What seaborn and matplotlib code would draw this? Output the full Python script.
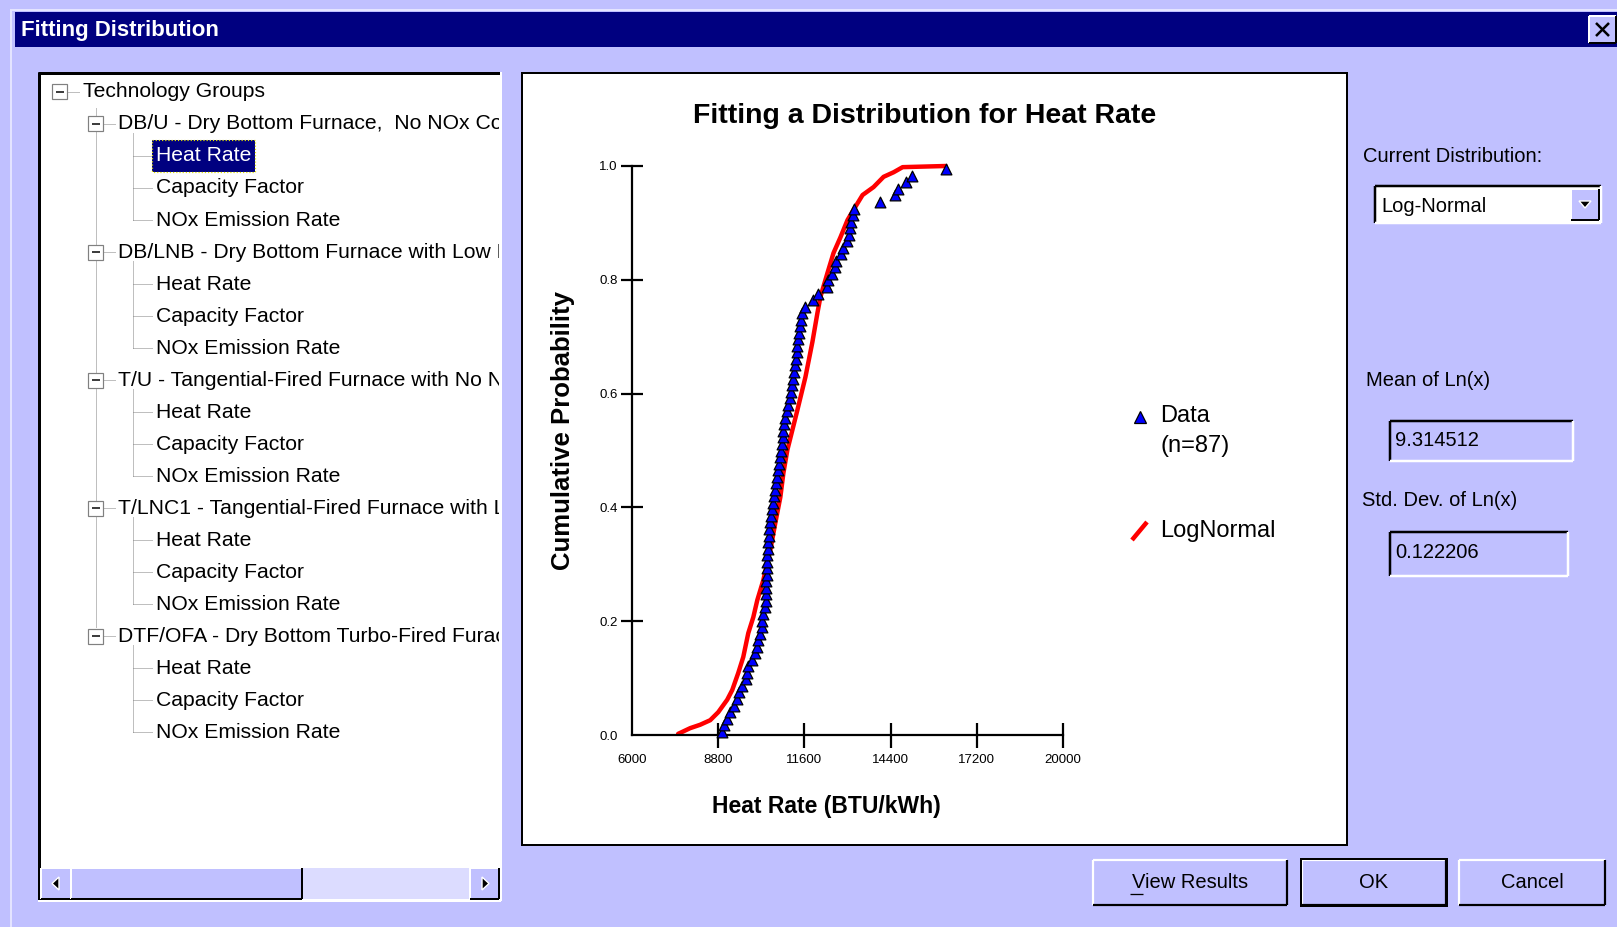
import numpy as np
import pandas as pd
import matplotlib
matplotlib.use("Agg")
import matplotlib.pyplot as plt
import seaborn as sns
from matplotlib.patches import Rectangle, Polygon

# ---------------- data ----------------
heat_rate_data = [8930, 8995, 9090, 9190, 9320, 9420, 9480, 9580, 9710, 9745,
                  9775, 9905, 10005, 10070, 10100, 10170, 10230, 10235, 10265, 10330,
                  10360, 10362, 10365, 10368, 10395, 10397, 10399, 10400, 10428, 10430,
                  10460, 10462, 10493, 10526, 10558, 10591, 10624, 10656, 10689, 10721,
                  10754, 10786, 10819, 10851, 10884, 10915, 10918, 10949, 10982, 11047,
                  11079, 11144, 11177, 11210, 11242, 11275, 11307, 11340, 11370, 11375,
                  11405, 11438, 11470, 11503, 11535, 11633, 11893, 12056, 12349, 12382,
                  12512, 12610, 12642, 12773, 12870, 12968, 13033, 13066, 13098, 13163,
                  13196, 14042, 14531, 14628, 14889, 15084, 16191]

lognormal_x = [7498, 7888, 8214, 8540, 8800, 9093, 9256, 9451, 9614, 9777,
               9940, 10070, 10265, 10493, 10656, 10819, 10917, 11047, 11372, 11633,
               11861, 12024, 12121, 12349, 12545, 12773, 13000, 13196, 13489, 13847,
               14173, 14498, 14791, 16191]
lognormal_p = [0.002, 0.012, 0.018, 0.026, 0.040, 0.062, 0.079, 0.109, 0.137, 0.179,
               0.207, 0.237, 0.272, 0.325, 0.373, 0.418, 0.460, 0.501, 0.571, 0.629,
               0.691, 0.742, 0.770, 0.812, 0.847, 0.875, 0.905, 0.923, 0.949, 0.963,
               0.981, 0.989, 0.998, 1.000]

x_ticks = [6000, 8800, 11600, 14400, 17200, 20000]
y_ticks = [0.0, 0.2, 0.4, 0.6, 0.8, 1.0]

# group names as visible in the (horizontally scrolled) tree panel
technology_groups = ["DB/U - Dry Bottom Furnace,  No NOx Co",
                     "DB/LNB - Dry Bottom Furnace with Low N",
                     "T/U - Tangential-Fired Furnace with No N",
                     "T/LNC1 - Tangential-Fired Furnace with L",
                     "DTF/OFA - Dry Bottom Turbo-Fired Furac"]
attributes = ["Heat Rate", "Capacity Factor", "NOx Emission Rate"]

current_distribution = "Log-Normal"
mean_ln = "9.314512"
sd_ln = "0.122206"
n_data = len(heat_rate_data)
# empirical plotting positions from the ranks
cum_prob = [(i + 0.5) / n_data for i in range(n_data)]

# ---------------- style ----------------
sns.set_style("ticks")
plt.rcParams['font.family'] = ['Liberation Sans', 'DejaVu Sans']
plt.rcParams.update({'text.color': 'black', 'axes.labelcolor': 'black',
                     'xtick.color': 'black', 'ytick.color': 'black',
                     'axes.edgecolor': 'black'})

BG = '#C0C0FF'
NAVY = '#000080'
W, H = 1617, 927
PX = 0.72  # one pixel in points at dpi 100
UI = 14.5
TREE = 15.2

fig = plt.figure(figsize=(W / 100, H / 100), dpi=100, facecolor=BG)
bg = fig.add_axes([0, 0, 1, 1])
bg.set_xlim(0, W)
bg.set_ylim(H, 0)
bg.axis('off')


def rect(ax, x0, y0, x1, y1, fc, ec='none', lw=0, z=1, ls='-'):
    ax.add_patch(Rectangle((x0, y0), x1 - x0, y1 - y0, facecolor=fc, edgecolor=ec,
                           linewidth=lw * PX, zorder=z, linestyle=ls))


def seg(ax, x0, y0, x1, y1, c, lw=1, z=2, ls='-'):
    ax.plot([x0, x1], [y0, y1], color=c, lw=lw * PX, zorder=z, ls=ls,
            solid_capstyle='butt')


def sunken(ax, x0, y0, x1, y1, w=2, z=3):
    seg(ax, x0, y0, x1, y0, 'black', w, z)
    seg(ax, x0, y0, x0, y1, 'black', w, z)
    seg(ax, x0, y1, x1, y1, 'white', w, z)
    seg(ax, x1, y0, x1, y1, 'white', w, z)


def raised(ax, x0, y0, x1, y1, w=2, z=3):
    seg(ax, x0, y0, x1, y0, 'white', w, z)
    seg(ax, x0, y0, x0, y1, 'white', w, z)
    seg(ax, x0, y1, x1, y1, 'black', w, z)
    seg(ax, x1, y0, x1, y1, 'black', w, z)


# window frame
seg(bg, 10, 10, W, 10, '#E4E4FF', 2, 1)
seg(bg, 11, 10, 11, H, '#E4E4FF', 2, 1)
rect(bg, 15, 12, W, 47, NAVY, z=1)
bg.text(21, 30, "Fitting Distribution", color='white', fontsize=16,
        fontweight='bold', va='center', ha='left', zorder=4)
# close button
rect(bg, 1589, 16, 1616, 43, BG, z=2)
raised(bg, 1589, 16, 1616, 43, 2, 3)
seg(bg, 1596, 23, 1609, 36, 'black', 2.5, 4)
seg(bg, 1596, 36, 1609, 23, 'black', 2.5, 4)

# ---------------- tree panel ----------------
rect(bg, 39, 73, 500, 900, 'white', z=1)
seg(bg, 38, 73, 500, 73, 'black', 3, 3)
seg(bg, 39, 72, 39, 900, 'black', 3, 3)
seg(bg, 38, 901, 501, 901, 'white', 2, 3)
seg(bg, 501, 72, 501, 901, 'white', 2, 3)

tree = fig.add_axes([41 / W, 1 - 866 / H, (499 - 41) / W, (866 - 75) / H])
tree.set_xlim(41, 499)
tree.set_ylim(866, 75)
tree.axis('off')
tree.patch.set_alpha(0)

DOT = (0, (1, 1))
GRAY = '#808080'


def row_y(i):
    return 92 + 32 * i


def box(ax, cx, cy):
    ax.add_patch(Rectangle((cx - 7.5, cy - 7.5), 15, 15, facecolor='white',
                           edgecolor=GRAY, linewidth=1.2 * PX, zorder=5))
    seg(ax, cx - 4, cy, cx + 4.5, cy, 'black', 1.5, 6)


# root
box(tree, 59.5, row_y(0))
seg(tree, 68, row_y(0), 80, row_y(0), GRAY, 1, 2, DOT)
tree.text(83, row_y(0), "Technology Groups", fontsize=TREE, va='center', ha='left',
          clip_on=True, zorder=4)
last_group_row = 1 + 4 * (len(technology_groups) - 1)
seg(tree, 96, row_y(0) + 16, 96, row_y(last_group_row) - 8, GRAY, 1, 2, DOT)

r = 1
for g in technology_groups:
    gy = row_y(r)
    box(tree, 95.5, gy)
    seg(tree, 104, gy, 116, gy, GRAY, 1, 2, DOT)
    tree.text(118, gy, g, fontsize=TREE, va='center', ha='left', clip_on=True, zorder=4)
    seg(tree, 133, gy + 9, 133, row_y(r + len(attributes)), GRAY, 1, 2, DOT)
    for k, a in enumerate(attributes):
        cy = row_y(r + 1 + k)
        seg(tree, 133, cy, 152, cy, GRAY, 1, 2, DOT)
        if r == 1 and k == 0:
            rect(tree, 152, cy - 16, 255, cy + 16, NAVY, z=3)
            rect(tree, 152, cy - 16, 255, cy + 16, 'none', ec='#E0E000', lw=1.2, z=4, ls=':')
            tree.text(156, cy, a, fontsize=TREE, va='center', ha='left', color='white',
                      clip_on=True, zorder=5)
        else:
            tree.text(156, cy, a, fontsize=TREE, va='center', ha='left', clip_on=True, zorder=4)
    r += 1 + len(attributes)

# horizontal scrollbar
rect(bg, 41, 868, 499, 899, '#DCDCFF', z=2)
for (x0, x1) in [(41, 71), (71, 302), (470, 499)]:
    rect(bg, x0, 868, x1, 899, BG, z=3)
    raised(bg, x0, 868, x1, 899, 2, 4)
bg.add_patch(Polygon([[52, 883.5], [59, 877], [59, 890]], closed=True, facecolor='black', zorder=5))
bg.add_patch(Polygon([[489, 883.5], [482, 877], [482, 890]], closed=True, facecolor='black', zorder=5))

# ---------------- chart panel ----------------
rect(bg, 522, 73, 1347, 845, 'white', z=1)
rect(bg, 522, 73, 1347, 845, 'none', ec='black', lw=2, z=3)

ax_left, ax_right, ax_top, ax_bot = 632, 1063, 166, 735
ax = fig.add_axes([ax_left / W, 1 - ax_bot / H, (ax_right - ax_left) / W, (ax_bot - ax_top) / H])
ax.set_facecolor('none')

sns.lineplot(x=lognormal_x, y=lognormal_p, ax=ax, color='#FF0000', linewidth=3.2,
             sort=False, estimator=None, legend=False, zorder=2)
sns.scatterplot(x=heat_rate_data, y=cum_prob, ax=ax, marker='^', s=60, color='#0000FF',
                edgecolor='black', linewidth=0.9, zorder=3, legend=False)
for ln in ax.lines:
    ln.set_clip_on(False)
for c in ax.collections:
    c.set_clip_on(False)

ax.set_xlim(x_ticks[0], x_ticks[-1])
ax.set_ylim(y_ticks[0], y_ticks[-1])
sns.despine(ax=ax)
for s in ['left', 'bottom']:
    ax.spines[s].set_linewidth(1.6)
    ax.spines[s].set_color('black')
ax.set_xticks(x_ticks)
ax.set_xticklabels([str(t) for t in x_ticks])
ax.set_yticks(y_ticks)
ax.set_yticklabels([f"{v:.1f}" for v in y_ticks])
ax.tick_params(axis='x', direction='inout', length=18, width=1.6, pad=4.5, labelsize=9.5)
ax.tick_params(axis='y', direction='inout', length=16, width=1.6, pad=2.5, labelsize=9.5)
ax.xaxis.get_major_ticks()[0].tick1line.set_visible(False)
ax.yaxis.get_major_ticks()[0].tick1line.set_visible(False)

ax.set_xlabel("Heat Rate (BTU/kWh)", fontsize=16.5, fontweight='bold')
ax.xaxis.set_label_coords((826 - ax_left) / (ax_right - ax_left), (ax_bot - 806) / (ax_bot - ax_top))
ax.xaxis.label.set_va('center')
ax.set_ylabel("Cumulative Probability", fontsize=18.5, fontweight='bold')
ax.yaxis.set_label_coords((563 - ax_left) / (ax_right - ax_left), (ax_bot - 430) / (ax_bot - ax_top))
ax.yaxis.label.set_va('center')
ax.yaxis.label.set_ha('center')

bg.text(924.5, 116, "Fitting a Distribution for Heat Rate", fontsize=20.5,
        fontweight='bold', ha='center', va='center', zorder=4)

# legend
bg.plot([1140], [417], marker='^', ms=8, mfc='#0000FF', mec='black', mew=0.9, zorder=5)
bg.text(1160, 416, "Data", fontsize=17, va='center', ha='left', zorder=5)
bg.text(1160, 446, f"(n={n_data})", fontsize=17, va='center', ha='left', zorder=5)
seg(bg, 1132, 540, 1147, 522, '#FF0000', 4.5, 5)
bg.text(1160, 531, "LogNormal", fontsize=17, va='center', ha='left', zorder=5)

# ---------------- right side controls ----------------
bg.text(1363, 156, "Current Distribution:", fontsize=UI, va='center', ha='left', zorder=4)
rect(bg, 1375, 186, 1601, 223, 'white', z=2)
sunken(bg, 1375, 186, 1601, 223, 2.5, 3)
bg.text(1381, 206, current_distribution, fontsize=UI, va='center', ha='left', zorder=4)
rect(bg, 1571, 189, 1599, 220, BG, z=4)
raised(bg, 1571, 189, 1599, 220, 2, 5)
bg.add_patch(Polygon([[1579, 201], [1591, 201], [1585, 208]], closed=True, facecolor='black', zorder=6))

bg.text(1366, 380, "Mean of Ln(x)", fontsize=UI, va='center', ha='left', zorder=4)
sunken(bg, 1390, 421, 1573, 461, 2.5, 3)
bg.text(1395, 440, mean_ln, fontsize=UI, va='center', ha='left', zorder=4)

bg.text(1362, 500, "Std. Dev. of Ln(x)", fontsize=UI, va='center', ha='left', zorder=4)
sunken(bg, 1390, 532, 1568, 576, 2.5, 3)
bg.text(1395, 553, sd_ln, fontsize=UI, va='center', ha='left', zorder=4)

# buttons
buttons = [("View Results", 1093, 1287), ("OK", 1302, 1446), ("Cancel", 1459, 1605)]
for label, x0, x1 in buttons:
    raised(bg, x0, 860, x1, 905, 2.2, 3)
    bg.text((x0 + x1) / 2, 882, label, fontsize=UI, va='center', ha='center', zorder=4)
rect(bg, 1301, 859, 1447, 906, 'none', ec='black', lw=2, z=4)
seg(bg, 1130, 894, 1143, 894, 'black', 1.3, 5)

fig.savefig("out.png", dpi=100, facecolor=BG)
